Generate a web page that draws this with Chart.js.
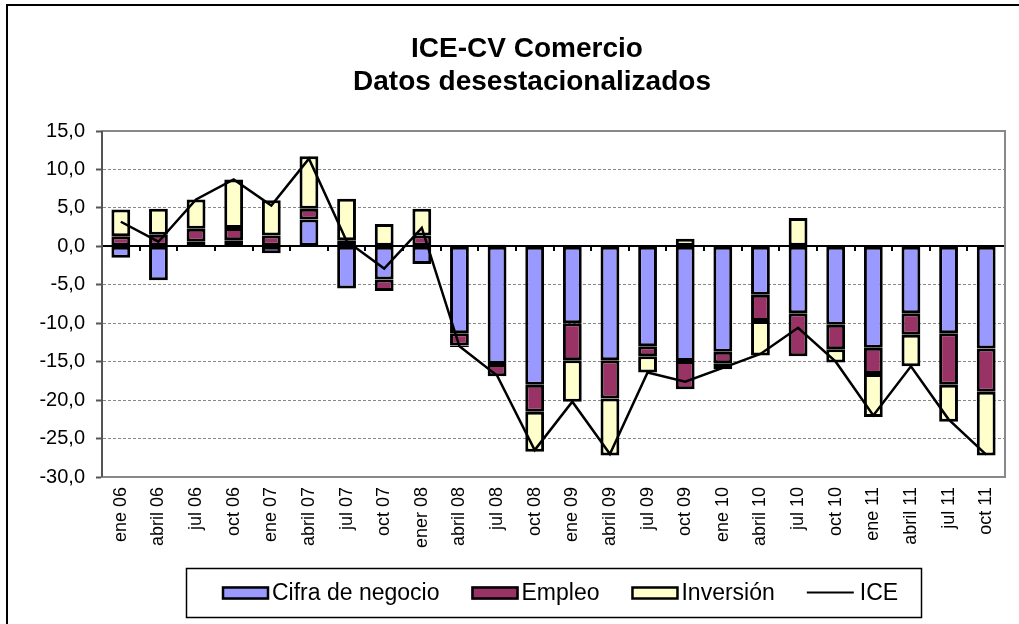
<!DOCTYPE html>
<html>
<head>
<meta charset="utf-8">
<script src="https://cdn.jsdelivr.net/npm/chart.js@4"></script>
<style>
html,body{margin:0;padding:0;background:#fff;}
#wrap{width:1019px;height:624px;position:relative;}
</style>
</head>
<body>
<div id="wrap"><canvas id="c"></canvas></div>
<script>
const categories = ['ene 06','abril 06','jul 06','oct 06','ene 07','abril 07','jul 07','oct 07','ener 08','abril 08','jul 08','oct 08','ene 09','abril 09','jul 09','oct 09','ene 10','abril 10','jul 10','oct 10','ene 11','abril 11','jul 11','oct 11'];
const cifraNegocio = [-1.5,-4.4,0.6,0.8,-0.9,3.5,-5.5,-4.3,-2.3,-11.3,-15.3,-18.0,-10.0,-14.8,-13.0,-14.9,-13.7,-6.3,-8.7,-10.2,-13.2,-8.7,-11.3,-13.3];
const empleo = [1.3,1.5,1.7,1.6,1.4,1.4,0.8,-1.5,1.4,-1.6,-1.6,-3.5,-4.8,-5.0,-1.3,-3.7,-1.5,-3.4,-5.6,-3.2,-3.4,-2.8,-6.7,-5.6];
const inversion = [3.5,3.4,3.8,6.3,4.6,6.8,5.4,2.9,3.5,-0.2,0.2,-5.2,-5.4,-7.4,-2.1,1.0,-0.8,-4.5,3.7,-1.7,-5.6,-4.1,-4.8,-8.3];
const ice = [3.2,0.6,6.1,8.7,5.3,11.4,0.7,-2.9,2.4,-13.0,-16.8,-26.5,-20.2,-27.0,-16.4,-17.6,-15.8,-14.0,-10.6,-15.0,-22.0,-15.6,-22.5,-27.1];
const yMin = -30, yMax = 15, yStep = 5;
const titleLines = ['ICE-CV Comercio', 'Datos desestacionalizados'];
const seriesNames = ['Cifra de negocio', 'Empleo', 'Inversión', 'ICE'];

const FONT = "'Liberation Sans', Arial, sans-serif";

const decor = {
  id: 'decor',
  beforeDraw(chart) {
    const ctx = chart.ctx;
    ctx.save();
    ctx.fillStyle = '#fff';
    ctx.fillRect(0, 0, chart.width, chart.height);
    ctx.restore();
  },
  beforeDatasetsDraw(chart) {
    const ctx = chart.ctx, a = chart.chartArea, x = chart.scales.x, y = chart.scales.y;
    const y0 = Math.round(y.getPixelForValue(0));
    ctx.save();
    ctx.strokeStyle = '#000';
    ctx.lineWidth = 2;
    ctx.beginPath();
    ctx.moveTo(a.left, y0);
    ctx.lineTo(a.right, y0);
    const n = chart.data.labels.length;
    for (let i = 0; i <= n; i++) {
      let px;
      if (i === 0) px = a.left; else if (i === n) px = a.right;
      else px = (x.getPixelForValue(i - 1) + x.getPixelForValue(i)) / 2;
      px = Math.round(px);
      ctx.moveTo(px, y0);
      ctx.lineTo(px, y0 + 5);
    }
    ctx.stroke();
    ctx.restore();
  },
  afterDraw(chart) {
    const ctx = chart.ctx, a = chart.chartArea;
    ctx.save();
    // plot border
    ctx.setLineDash([]);
    ctx.strokeStyle = '#888';
    ctx.lineWidth = 2;
    ctx.strokeRect(a.left, a.top, a.right - a.left, a.bottom - a.top);
    ctx.strokeStyle = '#555';
    ctx.beginPath();
    ctx.moveTo(a.left, a.top); ctx.lineTo(a.left, a.bottom);
    ctx.stroke();
    // outer frame
    ctx.strokeStyle = '#000';
    ctx.lineWidth = 2;
    ctx.strokeRect(7, 5, chart.width + 20, chart.height + 20);
    // title
    ctx.fillStyle = '#000';
    ctx.font = 'bold 28px ' + FONT;
    ctx.textAlign = 'center';
    ctx.textBaseline = 'alphabetic';
    ctx.fillText(titleLines[0], 527, 57);
    ctx.fillText(titleLines[1], 532, 90);
    // legend
    const bx = 186, by = 568, bw = 735, bh = 49;
    ctx.lineWidth = 1.5;
    ctx.strokeStyle = '#000';
    ctx.strokeRect(bx + 0.5, by + 0.5, bw, bh);
    ctx.font = '23px ' + FONT;
    ctx.textAlign = 'left';
    const ds = chart.data.datasets;
    const swW = 47, gapT = 3, gapI = 32;
    let cx = 222;
    const cy = by + bh / 2;
    ds.forEach((d) => {
      const isLine = d.type === 'line';
      if (isLine) {
        ctx.strokeStyle = '#000';
        ctx.lineWidth = 2;
        ctx.beginPath();
        ctx.moveTo(cx, cy); ctx.lineTo(cx + swW, cy);
        ctx.stroke();
      } else {
        ctx.fillStyle = d.backgroundColor;
        ctx.fillRect(cx, cy - 6, swW, 13);
        ctx.strokeStyle = '#000';
        ctx.lineWidth = 2.5;
        ctx.strokeRect(cx + 1, cy - 5, swW - 2, 11);
      }
      const tx = cx + swW + (isLine ? 6 : gapT);
      ctx.fillStyle = '#000';
      ctx.textBaseline = 'middle';
      ctx.fillText(d.label, tx, cy + 1);
      cx = tx + ctx.measureText(d.label).width + gapI;
    });
    ctx.restore();
  }
};

const barCommon = {
  type: 'bar',
  stack: 'comp',
  borderColor: '#000',
  borderWidth: 3,
  borderSkipped: false,
  barPercentage: 0.5,
  categoryPercentage: 1,
  order: 2
};

new Chart(document.getElementById('c'), {
  data: {
    labels: categories,
    datasets: [
      Object.assign({}, barCommon, { label: seriesNames[0], data: cifraNegocio, backgroundColor: '#9999FF' }),
      Object.assign({}, barCommon, { label: seriesNames[1], data: empleo, backgroundColor: '#993366' }),
      Object.assign({}, barCommon, { label: seriesNames[2], data: inversion, backgroundColor: '#FFFFCC' }),
      { type: 'line', label: seriesNames[3], data: ice, stack: 'ice', borderColor: '#000', backgroundColor: '#000',
        borderWidth: 2.5, pointRadius: 0, tension: 0, fill: false, order: 0 }
    ]
  },
  options: {
    responsive: true,
    maintainAspectRatio: false,
    devicePixelRatio: 1,
    animation: false,
    layout: { padding: { top: 131, right: 14, bottom: 0, left: 0 } },
    plugins: { legend: { display: false }, title: { display: false }, tooltip: { enabled: false } },
    scales: {
      x: {
        stacked: true,
        grid: { display: false, drawTicks: false },
        border: { display: false },
        ticks: {
          autoSkip: false, minRotation: 90, maxRotation: 90, padding: 10,
          color: '#000', font: { family: FONT, size: 18 }
        },
        afterFit(s) { s.height = 147; }
      },
      y: {
        stacked: true,
        min: yMin, max: yMax,
        ticks: {
          stepSize: yStep, padding: 11, color: '#000', font: { family: FONT, size: 20 },
          callback: v => v.toFixed(1).replace('.', ',')
        },
        grid: {
          color: '#888', lineWidth: 1,
          tickColor: '#555', tickLength: 6, tickWidth: 2, tickBorderDash: []
        },
        border: { display: true, color: '#555', width: 2, dash: [3, 2] },
        afterFit(s) { s.width = 102; }
      }
    }
  },
  plugins: [decor]
});
</script>
</body>
</html>
